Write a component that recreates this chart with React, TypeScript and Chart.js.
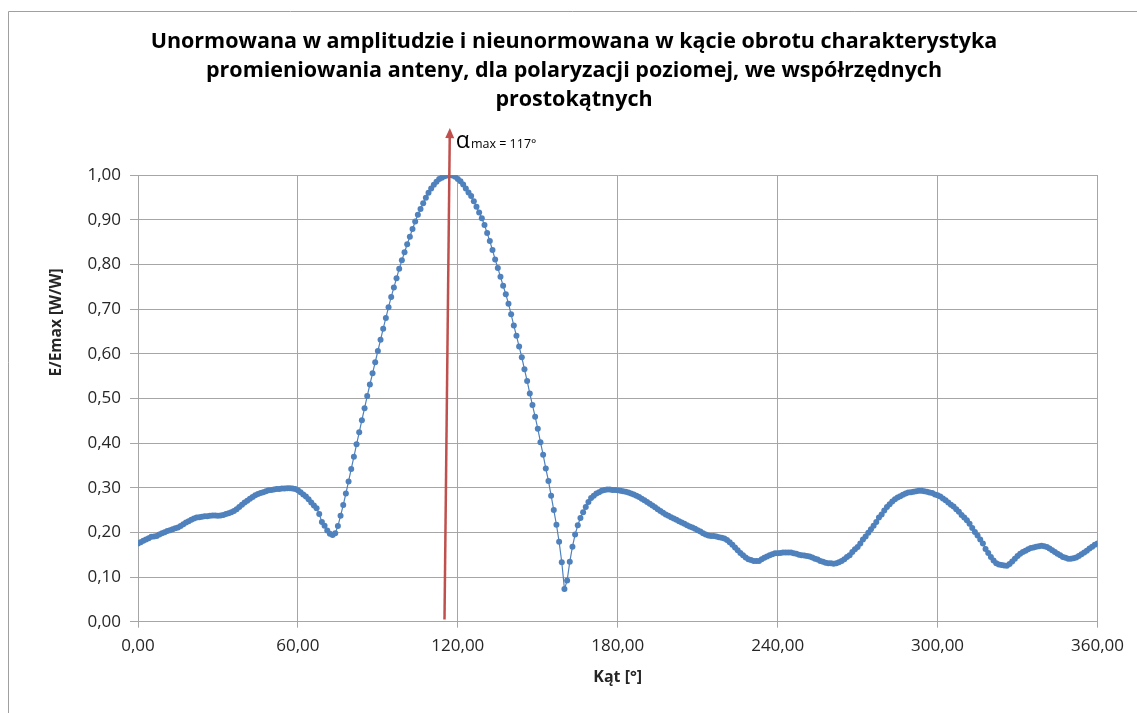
import React, { useEffect, useRef } from "react";
import { Chart, registerables } from "chart.js";

Chart.register(...registerables);

// ---- data ----
const TITLE_LINES = [
  "Unormowana w amplitudzie i nieunormowana w kącie obrotu charakterystyka",
  "promieniowania anteny, dla polaryzacji poziomej, we współrzędnych",
  "prostokątnych",
];
const X_TITLE = "Kąt [°]";
const Y_TITLE = "E/Emax [W/W]";
const ARROW_LABEL_MAIN = "α";
const ARROW_LABEL_SUB = "max = 117°";

const ANGLE_START = 0;
const ANGLE_STEP = 1;

const E_000_059 = [
  0.175, 0.178, 0.181, 0.184, 0.187, 0.190, 0.191, 0.192, 0.195, 0.198,
  0.200, 0.203, 0.205, 0.207, 0.209, 0.211, 0.214, 0.218, 0.222, 0.225,
  0.228, 0.231, 0.233, 0.234, 0.235, 0.236, 0.236, 0.237, 0.238, 0.238,
  0.237, 0.238, 0.239, 0.241, 0.243, 0.245, 0.248, 0.252, 0.257, 0.262,
  0.267, 0.271, 0.275, 0.279, 0.283, 0.286, 0.288, 0.290, 0.292, 0.294,
  0.295, 0.296, 0.297, 0.297, 0.298, 0.298, 0.299, 0.299, 0.298, 0.297,
];
const E_060_119 = [
  0.294, 0.290, 0.285, 0.280, 0.274, 0.267, 0.260, 0.254, 0.241, 0.223,
  0.215, 0.204, 0.197, 0.194, 0.198, 0.214, 0.237, 0.261, 0.287, 0.314,
  0.342, 0.369, 0.397, 0.424, 0.451, 0.478, 0.505, 0.531, 0.556, 0.581,
  0.606, 0.631, 0.656, 0.680, 0.704, 0.727, 0.748, 0.769, 0.790, 0.809,
  0.827, 0.845, 0.862, 0.879, 0.896, 0.911, 0.924, 0.937, 0.949, 0.960,
  0.970, 0.978, 0.985, 0.991, 0.994, 0.997, 0.999, 1.000, 0.999, 0.996,
];
const E_120_179 = [
  0.991, 0.986, 0.979, 0.970, 0.961, 0.953, 0.941, 0.929, 0.916, 0.903,
  0.888, 0.870, 0.852, 0.832, 0.811, 0.792, 0.772, 0.752, 0.733, 0.712,
  0.688, 0.663, 0.640, 0.616, 0.592, 0.565, 0.539, 0.511, 0.485, 0.459,
  0.432, 0.402, 0.374, 0.343, 0.315, 0.282, 0.250, 0.217, 0.179, 0.133,
  0.073, 0.092, 0.134, 0.168, 0.195, 0.216, 0.232, 0.245, 0.257, 0.268,
  0.277, 0.282, 0.287, 0.290, 0.293, 0.295, 0.296, 0.296, 0.295, 0.295,
];
const E_180_239 = [
  0.294, 0.293, 0.292, 0.291, 0.289, 0.287, 0.285, 0.282, 0.279, 0.275,
  0.272, 0.268, 0.264, 0.260, 0.256, 0.252, 0.248, 0.244, 0.240, 0.237,
  0.234, 0.231, 0.228, 0.225, 0.222, 0.219, 0.216, 0.213, 0.211, 0.208,
  0.205, 0.202, 0.198, 0.195, 0.193, 0.192, 0.192, 0.191, 0.189, 0.188,
  0.186, 0.183, 0.178, 0.172, 0.166, 0.160, 0.154, 0.149, 0.144, 0.140,
  0.138, 0.136, 0.136, 0.136, 0.140, 0.143, 0.146, 0.149, 0.151, 0.153,
];
const E_240_299 = [
  0.153, 0.154, 0.155, 0.155, 0.155, 0.155, 0.153, 0.152, 0.150, 0.149,
  0.148, 0.147, 0.146, 0.144, 0.141, 0.139, 0.136, 0.134, 0.132, 0.131,
  0.131, 0.130, 0.131, 0.133, 0.136, 0.140, 0.145, 0.149, 0.156, 0.162,
  0.167, 0.175, 0.184, 0.191, 0.199, 0.207, 0.215, 0.223, 0.233, 0.240,
  0.249, 0.257, 0.263, 0.269, 0.274, 0.278, 0.281, 0.284, 0.287, 0.289,
  0.290, 0.291, 0.292, 0.293, 0.293, 0.292, 0.291, 0.289, 0.288, 0.285,
];
const E_300_360 = [
  0.283, 0.280, 0.276, 0.272, 0.267, 0.262, 0.258, 0.252, 0.246, 0.239,
  0.233, 0.227, 0.219, 0.210, 0.201, 0.193, 0.184, 0.175, 0.163, 0.154,
  0.145, 0.137, 0.131, 0.128, 0.127, 0.126, 0.125, 0.129, 0.135, 0.141,
  0.147, 0.152, 0.156, 0.159, 0.162, 0.165, 0.166, 0.168, 0.169, 0.170,
  0.169, 0.167, 0.164, 0.160, 0.156, 0.152, 0.149, 0.145, 0.143, 0.141,
  0.141, 0.142, 0.144, 0.147, 0.151, 0.155, 0.159, 0.164, 0.168, 0.172,
  0.175,
];

const E_REL = [
  ...E_000_059,
  ...E_060_119,
  ...E_120_179,
  ...E_180_239,
  ...E_240_299,
  ...E_300_360,
];

// marker arrow (angle, value) of its start and tip
const ARROW_FROM = { angle: 115, value: 0.005 };
const ARROW_TO = { angle: 117, value: 1.105 };

const X_MIN = 0;
const X_MAX = 360;
const X_STEP = 60;
const Y_MIN = 0;
const Y_MAX = 1;
const Y_STEP = 0.1;

// ---- styles ----
const W = 1137;
const H = 713;
const BLUE = "#4F81BD";
const RED = "#C0504D";
const GRID = "#A6A6A6";
const TEXT = "#262626";
const FONT = "'Open Sans', 'Liberation Sans', sans-serif";

const fmt = (v: number) => Number(v).toFixed(2).replace(".", ",");

const framePlugin = {
  id: "frame",
  beforeDraw(chart: any) {
    const ctx = chart.ctx;
    ctx.save();
    ctx.fillStyle = "#fff";
    ctx.fillRect(0, 0, chart.width, chart.height);
    ctx.strokeStyle = "#A0A0A0";
    ctx.lineWidth = 1;
    ctx.beginPath();
    ctx.moveTo(8.5, chart.height);
    ctx.lineTo(8.5, 11.5);
    ctx.lineTo(chart.width, 11.5);
    ctx.stroke();
    ctx.restore();
  },
};

const textPlugin = {
  id: "texts",
  afterDraw(chart: any) {
    const ctx = chart.ctx;
    const xs = chart.scales.x;
    const ys = chart.scales.y;
    const ca = chart.chartArea;
    ctx.save();
    // title
    ctx.fillStyle = "#000";
    ctx.font = `bold 21.5px ${FONT}`;
    ctx.textAlign = "center";
    ctx.textBaseline = "alphabetic";
    TITLE_LINES.forEach((line, i) => {
      ctx.fillText(line, 574, 48 + i * 29);
    });
    // x title
    ctx.font = `bold 16px ${FONT}`;
    ctx.fillStyle = TEXT;
    ctx.textBaseline = "middle";
    ctx.fillText(X_TITLE, (ca.left + ca.right) / 2, ca.bottom + 56);
    // y title
    ctx.save();
    ctx.translate(57, ys.getPixelForValue(0.67));
    ctx.rotate(-Math.PI / 2);
    ctx.font = `bold 15.5px ${FONT}`;
    ctx.fillText(Y_TITLE, 0, 0);
    ctx.restore();

    // arrow
    const x1 = xs.getPixelForValue(ARROW_FROM.angle);
    const y1 = ys.getPixelForValue(ARROW_FROM.value);
    const x2 = xs.getPixelForValue(ARROW_TO.angle);
    const y2 = ys.getPixelForValue(ARROW_TO.value);
    const ang = Math.atan2(y2 - y1, x2 - x1);
    const headLen = 10;
    const headW = 4.5;
    const bx = x2 - headLen * Math.cos(ang);
    const by = y2 - headLen * Math.sin(ang);
    ctx.strokeStyle = RED;
    ctx.fillStyle = RED;
    ctx.lineWidth = 2.5;
    ctx.beginPath();
    ctx.moveTo(x1, y1);
    ctx.lineTo(bx, by);
    ctx.stroke();
    ctx.beginPath();
    ctx.moveTo(x2, y2);
    ctx.lineTo(bx + headW * Math.sin(ang), by - headW * Math.cos(ang));
    ctx.lineTo(bx - headW * Math.sin(ang), by + headW * Math.cos(ang));
    ctx.closePath();
    ctx.fill();

    // arrow label
    ctx.fillStyle = "#000";
    ctx.textAlign = "left";
    ctx.textBaseline = "alphabetic";
    ctx.font = `23px ${FONT}`;
    const lx = x2 + 6;
    const ly = y2 + 20;
    ctx.fillText(ARROW_LABEL_MAIN, lx, ly);
    const aw = ctx.measureText(ARROW_LABEL_MAIN).width;
    ctx.font = `12.5px ${FONT}`;
    ctx.fillText(ARROW_LABEL_SUB, lx + aw + 1, ly);
    ctx.restore();
  },
};

export default function App() {
  const ref = useRef<HTMLCanvasElement | null>(null);
  useEffect(() => {
    if (!ref.current) return;
    const points = E_REL.map((v, i) => ({ x: ANGLE_START + i * ANGLE_STEP, y: v }));
    const chart = new Chart(ref.current, {
      type: "line",
      data: {
        datasets: [
          {
            data: points,
            borderColor: BLUE,
            backgroundColor: BLUE,
            borderWidth: 1.2,
            pointRadius: 3,
            pointBorderWidth: 0,
            pointBackgroundColor: BLUE,
            tension: 0,
          },
        ],
      },
      options: {
        responsive: false,
        animation: false,
        layout: { padding: { left: 0, right: 39.5, top: 175, bottom: 0 } },
        plugins: {
          legend: { display: false },
          title: { display: false },
          tooltip: { enabled: false },
        },
        scales: {
          x: {
            type: "linear",
            min: X_MIN,
            max: X_MAX,
            ticks: {
              stepSize: X_STEP,
              callback: (v: any) => fmt(v),
              font: { family: FONT, size: 17 },
              color: TEXT,
              padding: 8,
              maxRotation: 0,
            },
            grid: { color: GRID, tickLength: 6 },
            border: { color: GRID },
            afterFit: (s: any) => {
              s.height = H - 621.7;
            },
          },
          y: {
            type: "linear",
            min: Y_MIN,
            max: Y_MAX,
            ticks: {
              stepSize: Y_STEP,
              callback: (v: any) => fmt(v),
              font: { family: FONT, size: 17 },
              color: TEXT,
              padding: 9,
            },
            grid: { color: GRID, tickLength: 8 },
            border: { color: GRID },
            afterFit: (s: any) => {
              s.width = 138;
            },
          },
        },
      },
      plugins: [framePlugin, textPlugin],
    } as any);
    return () => chart.destroy();
  }, []);
  return (
    <div style={{ position: "fixed", left: 0, top: 0, width: W, height: H, background: "#fff" }}>
      <canvas ref={ref} width={W} height={H} style={{ width: W, height: H, display: "block" }} />
    </div>
  );
}
